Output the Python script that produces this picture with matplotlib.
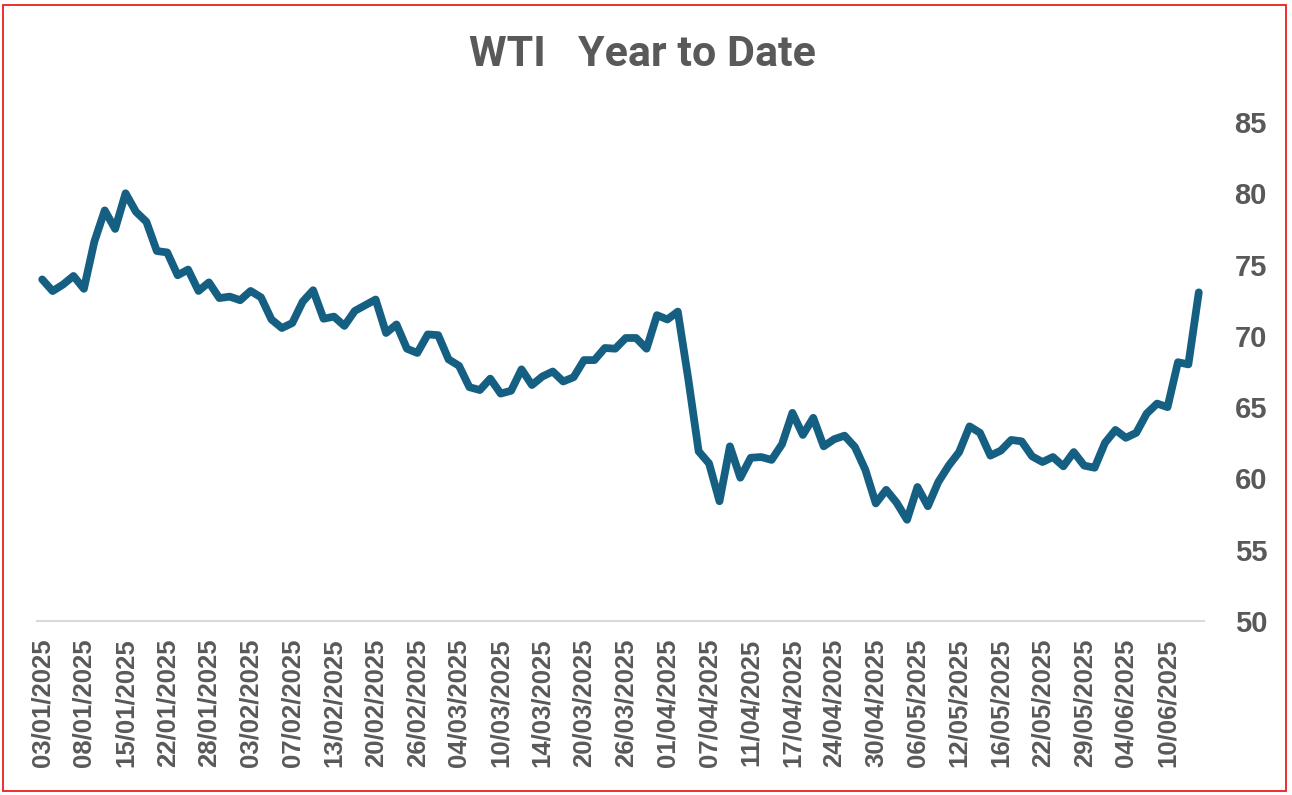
import matplotlib
matplotlib.use("Agg")
import matplotlib.pyplot as plt
from matplotlib.patches import Rectangle

title = "WTI   Year to Date"

wti_close = [
    73.96, 73.14, 73.60, 74.20, 73.30, 76.60, 78.80, 77.50, 80.00, 78.70,
    78.00, 75.95, 75.85, 74.25, 74.65, 73.15, 73.75, 72.65, 72.75, 72.50,
    73.15, 72.70, 71.15, 70.55, 70.90, 72.40, 73.20, 71.20, 71.35, 70.70,
    71.75, 72.15, 72.55, 70.20, 70.80, 69.10, 68.80, 70.10, 70.05, 68.35,
    67.90, 66.40, 66.20, 67.00, 65.95, 66.15, 67.65, 66.55, 67.15, 67.50,
    66.80, 67.10, 68.30, 68.30, 69.15, 69.10, 69.85, 69.85, 69.10, 71.45,
    71.15, 71.70, 67.00, 61.90, 61.05, 58.40, 62.25, 60.05, 61.45, 61.50,
    61.30, 62.40, 64.60, 63.05, 64.25, 62.25, 62.75, 63.00, 62.20, 60.60,
    58.25, 59.20, 58.30, 57.10, 59.40, 58.05, 59.75, 60.90, 61.85, 63.65,
    63.20, 61.60, 61.95, 62.70, 62.60, 61.55, 61.15, 61.50, 60.85, 61.85,
    60.90, 60.75, 62.50, 63.40, 62.85, 63.20, 64.55, 65.25, 65.00, 68.15,
    68.00, 73.05,
]

tick_labels = [
    "03/01/2025", "08/01/2025", "15/01/2025", "22/01/2025", "28/01/2025",
    "03/02/2025", "07/02/2025", "13/02/2025", "20/02/2025", "26/02/2025",
    "04/03/2025", "10/03/2025", "14/03/2025", "20/03/2025", "26/03/2025",
    "01/04/2025", "07/04/2025", "11/04/2025", "17/04/2025", "24/04/2025",
    "30/04/2025", "06/05/2025", "12/05/2025", "16/05/2025", "22/05/2025",
    "29/05/2025", "04/06/2025", "10/06/2025",
]
tick_step = 4

y_ticks = [50, 55, 60, 65, 70, 75, 80, 85]

line_color = "#156082"
text_color = "#595959"
font = ["Liberation Sans", "DejaVu Sans"]
title_font = ["Roboto", "Liberation Sans", "DejaVu Sans"]

W, H = 1292, 795
fig = plt.figure(figsize=(W / 100, H / 100), dpi=100)
fig.patch.set_facecolor("white")

left, right, top, bottom = 37, 1204, 122, 621
ax = fig.add_axes([left / W, 1 - bottom / H, (right - left) / W, (bottom - top) / H])

x = list(range(len(wti_close)))
ax.plot(x, wti_close, color=line_color, linewidth=5.6, solid_joinstyle="round",
        solid_capstyle="round", zorder=3)

ax.set_xlim(-0.5, len(wti_close) - 0.5)
ax.set_ylim(50, 85)

ax.set_xticks(list(range(0, len(wti_close), tick_step))[:len(tick_labels)])
ax.set_xticklabels(tick_labels, rotation=90, fontsize=18.5, fontweight="bold",
                   color=text_color, family=font, va="top", ha="center")
ax.set_yticks(y_ticks)
ax.set_yticklabels([str(v) for v in y_ticks], fontsize=21, fontweight="bold",
                   color=text_color, family=font)
ax.yaxis.tick_right()
ax.tick_params(axis="both", length=0)
ax.tick_params(axis="x", pad=12.5)
ax.tick_params(axis="y", pad=22)

for side in ["top", "left", "right"]:
    ax.spines[side].set_visible(False)
ax.spines["bottom"].set_color("#d9d9d9")
ax.spines["bottom"].set_linewidth(1.5)
ax.set_facecolor("none")

fig.text(0.4975, 1 - 55 / H, title, ha="center", va="center", fontsize=31,
         fontweight="bold", color=text_color, family=title_font)

fig.patches.append(Rectangle((2.5 / W, 4.5 / H), (1285.5 - 2.5) / W, (790 - 4.5) / H,
                             transform=fig.transFigure, fill=False,
                             edgecolor="#ee1c1c", linewidth=1.3))

fig.savefig("out.png", dpi=100, facecolor="white")
